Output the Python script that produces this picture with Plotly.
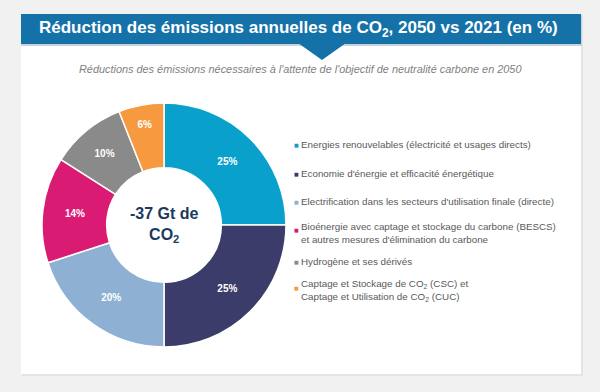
import plotly.graph_objects as go

W, H = 600, 392

# ---- data ----
labels = [
    "Energies renouvelables (électricité et usages directs)",
    "Economie d'énergie et efficacité énergétique",
    "Electrification dans les secteurs d'utilisation finale (directe)",
    "Bioénergie avec captage et stockage du carbone (BESCS)<br>et autres mesures d'élimination du carbone",
    "Hydrogène et ses dérivés",
    "Captage et Stockage de CO<sub>2</sub> (CSC) et<br>Captage et Utilisation de CO<sub>2</sub> (CUC)",
]
values = [25, 25, 20, 14, 10, 6]
colors = ["#0aa0cc", "#3b3c69", "#8eb1d3", "#d91b73", "#8a8a8a", "#f7993f"]

title_text = "Réduction des émissions annuelles de CO<sub>2</sub>, 2050 vs 2021 (en %)"
subtitle_text = "Réductions des émissions nécessaires à l'attente de l'objectif de neutralité carbone en 2050"
center_text = "<b>-37 Gt de<br>CO<sub>2</sub></b>"


def px(x):
    return x / W


def py(y):
    return 1 - y / H


FONT = "Liberation Sans, Arial, sans-serif"

# pie geometry (pixels)
cx, cy, r = 164, 225, 122

fig = go.Figure()
fig.add_trace(go.Pie(
    labels=labels,
    values=values,
    sort=False,
    direction="clockwise",
    rotation=0,
    hole=0.47,
    marker=dict(colors=colors, line=dict(color="white", width=1.5)),
    texttemplate="<b>%{value}%</b>",
    textposition="inside",
    insidetextorientation="horizontal",
    textfont=dict(color="white", size=10, family=FONT),
    domain=dict(x=[px(cx - r), px(cx + r)], y=[py(cy + r), py(cy - r)]),
    showlegend=False,
    hoverinfo="label+percent",
))

shapes = [
    # card shadow
    dict(type="rect", xref="paper", yref="paper", x0=px(22), x1=px(583), y0=py(376), y1=py(15),
         fillcolor="#e4e4e4", line=dict(width=0), layer="below"),
    # card
    dict(type="rect", xref="paper", yref="paper", x0=px(21), x1=px(581), y0=py(374), y1=py(14),
         fillcolor="white", line=dict(width=0), layer="below"),
    # header shadow
    dict(type="rect", xref="paper", yref="paper", x0=px(21), x1=px(582), y0=py(46), y1=py(15),
         fillcolor="#c9d3da", line=dict(width=0), layer="below"),
    # header
    dict(type="rect", xref="paper", yref="paper", x0=px(21), x1=px(581), y0=py(44), y1=py(14),
         fillcolor="#1572a8", line=dict(width=0), layer="below"),
    # header pointer
    dict(type="path", xref="paper", yref="paper",
         path=f"M {px(298)},{py(43)} L {px(346)},{py(43)} L {px(322)},{py(60)} Z",
         fillcolor="#1572a8", line=dict(width=0), layer="below"),
]

annotations = [
    dict(text=f"<b>{title_text}</b>", x=px(298), y=py(29), xref="paper", yref="paper",
         showarrow=False, xanchor="center", yanchor="middle",
         font=dict(family=FONT, size=17, color="white")),
    dict(text=f"<i>{subtitle_text}</i>", x=px(300), y=py(69), xref="paper", yref="paper",
         showarrow=False, xanchor="center", yanchor="middle",
         font=dict(family=FONT, size=10.9, color="#7f7f7f")),
    dict(text=center_text, x=px(cx), y=py(cy), xref="paper", yref="paper",
         showarrow=False, xanchor="center", yanchor="middle",
         font=dict(family=FONT, size=16, color="#1c3a5c")),
]

# legend (built from labels/colors)
text_y = [144, 173, 201, 233, 261, 290]
mark_y = [145, 174, 202, 230, 262, 288]
for lab, col, ty, my in zip(labels, colors, text_y, mark_y):
    annotations.append(dict(text="■", x=px(296), y=py(my), xref="paper", yref="paper",
                            showarrow=False, xanchor="center", yanchor="middle",
                            font=dict(family="DejaVu Sans", size=5, color=col)))
    annotations.append(dict(text=lab, x=px(299), y=py(ty), xref="paper", yref="paper",
                            showarrow=False, xanchor="left", yanchor="middle", align="left",
                            font=dict(family=FONT, size=9.8, color="#595959")))

fig.update_layout(
    width=W, height=H,
    margin=dict(l=0, r=0, t=0, b=0),
    paper_bgcolor="#f1f1f1",
    plot_bgcolor="#f1f1f1",
    shapes=shapes,
    annotations=annotations,
    font=dict(family=FONT),
)

fig.write_html(
    "out.html",
    config={"displayModeBar": False},
    post_script="document.body.style.margin='0';document.body.style.background='#f1f1f1';",
)
